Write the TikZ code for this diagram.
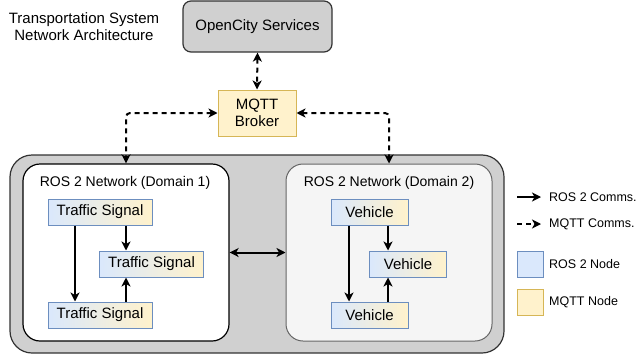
\documentclass[tikz,border=0pt]{standalone}
\usepackage{fontspec}
\setmainfont{Liberation Sans}
\usetikzlibrary{arrows.meta}
\definecolor{rosfill}{HTML}{DAE8FC}
\definecolor{rosline}{HTML}{6C8EBF}
\definecolor{mqttfill}{HTML}{FFF2CC}
\definecolor{mqttline}{HTML}{D6B656}
\definecolor{panelgray}{HTML}{D0D0D0}
\definecolor{lightpanel}{HTML}{F5F5F5}
\definecolor{edgegray}{HTML}{666666}
\definecolor{darkline}{HTML}{333333}

\tikzset{
  txt/.style={font=\fontsize{15}{17.5}\selectfont, align=center, inner sep=0pt},
  smalltxt/.style={font=\fontsize{12.5}{15}\selectfont, inner sep=0pt, anchor=west},
  labeltxt/.style={font=\fontsize{14}{16}\selectfont, inner sep=0pt},
  headtip/.tip={Stealth[length=9pt,width=9pt,inset=2.5pt]},
  ros/.style={line width=2pt, -headtip},
  rosboth/.style={line width=2pt, headtip-headtip},
  mqtt/.style={line width=2pt, dash pattern=on 5pt off 4pt, -headtip},
  mqttboth/.style={line width=2pt, dash pattern=on 5pt off 4pt, headtip-headtip},
  gradbox/.style={txt, draw=rosline, line width=1pt, left color=rosfill, right color=mqttfill, minimum height=26pt},
  tsbox/.style={gradbox, minimum width=104pt},
  vbox/.style={gradbox, minimum width=77pt},
}

\begin{document}
\begin{tikzpicture}[x=1pt, y=-1pt]
\useasboundingbox (0,0) rectangle (639,356);

% title
\node[txt] (title) at (84,26.5) {Transportation System\\Network Architecture};

% cloud services and broker
\node[txt, draw=darkline, line width=1.2pt, fill=panelgray, rounded corners=8pt,
      minimum width=149pt, minimum height=51pt] (ocs) at (257.5,26.5) {OpenCity Services};
\node[txt, draw=mqttline, line width=1pt, fill=mqttfill,
      minimum width=78pt, minimum height=46pt] (broker) at (257,113) {MQTT\\Broker};

% system container and domains
\node[draw=darkline, line width=1.2pt, fill=panelgray, rounded corners=22pt,
      minimum width=494pt, minimum height=198pt, inner sep=0pt] (system) at (257,254) {};
\node[draw=black, line width=1.2pt, fill=white, rounded corners=17pt,
      minimum width=206pt, minimum height=177pt, inner sep=0pt] (dom1) at (126,252.5) {};
\node[draw=edgegray, line width=1pt, fill=lightpanel, rounded corners=17pt,
      minimum width=206pt, minimum height=177pt, inner sep=0pt] (dom2) at (389,252.5) {};
\node[labeltxt] (dom1lbl) at (125,183) {ROS 2 Network (Domain 1)};
\node[labeltxt] (dom2lbl) at (389,183) {ROS 2 Network (Domain 2)};

% domain 1 nodes
\node[tsbox] (ts1) at (100,212) {Traffic Signal};
\node[tsbox] (ts2) at (151.5,264) {Traffic Signal};
\node[tsbox] (ts3) at (100,315) {Traffic Signal};

% domain 2 nodes
\node[vbox] (v1) at (369.5,212) {Vehicle};
\node[vbox] (v2) at (408,264) {Vehicle};
\node[vbox] (v3) at (369.5,315) {Vehicle};

% MQTT links
\draw[mqttboth] (ocs.south) -- (broker.north);
\draw[mqttboth, rounded corners=4pt] (broker.west) -| (dom1.north);
\draw[mqttboth, rounded corners=4pt] (broker.east) -| (dom2.north);

% inter-domain link
\draw[rosboth] (dom1.east) -- (dom2.west);

% ROS 2 links, domain 1
\draw[ros] ([xshift=-25pt]ts1.south) -- ([xshift=-25pt]ts3.north);
\draw[ros] ([xshift=26pt]ts1.south) -- ([xshift=26pt]ts1.south |- ts2.north);
\draw[ros] ([xshift=26pt]ts3.north) -- ([xshift=26pt]ts3.north |- ts2.south);

% ROS 2 links, domain 2
\draw[ros] ([xshift=-20.5pt]v1.south) -- ([xshift=-20.5pt]v3.north);
\draw[ros] ([xshift=18.5pt]v1.south) -- ([xshift=18.5pt]v1.south |- v2.north);
\draw[ros] ([xshift=18.5pt]v3.north) -- ([xshift=18.5pt]v3.north |- v2.south);

% legend
\coordinate (lg1a) at (517,197);
\coordinate (lg1b) at (541,197);
\coordinate (lg2a) at (517,224);
\coordinate (lg2b) at (541,224);
\draw[ros] (lg1a) -- (lg1b);
\draw[mqtt] (lg2a) -- (lg2b);
\node[smalltxt] (lg1t) at (549,197) {ROS 2 Comms.};
\node[smalltxt] (lg2t) at (549,224) {MQTT Comms.};
\node[draw=rosline, line width=1pt, fill=rosfill, minimum size=26pt, inner sep=0pt] (lgros) at (530,264) {};
\node[draw=mqttline, line width=1pt, fill=mqttfill, minimum size=26pt, inner sep=0pt] (lgmqtt) at (530,302) {};
\node[smalltxt] (lg3t) at (549,264) {ROS 2 Node};
\node[smalltxt] (lg4t) at (549,302) {MQTT Node};
\end{tikzpicture}
\end{document}
